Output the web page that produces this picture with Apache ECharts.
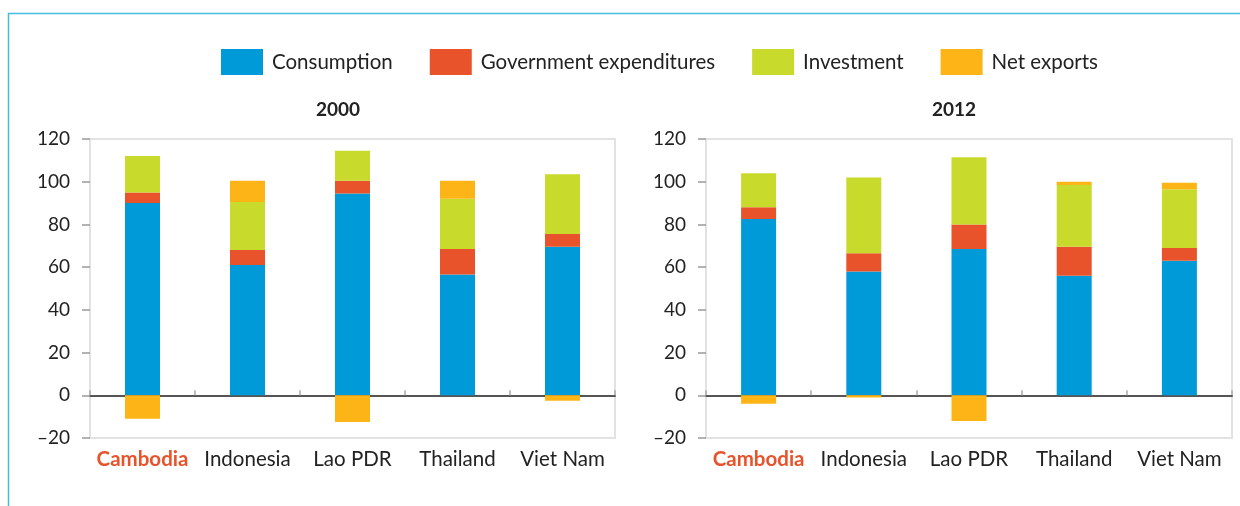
<!DOCTYPE html>
<html>
<head>
<meta charset="utf-8">
<script src="https://cdn.jsdelivr.net/npm/echarts@6/dist/echarts.min.js"></script>
<style>
  html, body { margin: 0; padding: 0; background: #fff; }
  #chart { width: 1240px; height: 506px; }
</style>
</head>
<body>
<div id="chart"></div>
<script>
// categories and values (percent of GDP)
const countries = ['Cambodia', 'Indonesia', 'Lao PDR', 'Thailand', 'Viet Nam']
const seriesNames = ['Consumption', 'Government expenditures', 'Investment', 'Net exports']
const colors = ['#009ad8', '#e9532b', '#c8da2b', '#fdb416']

// 2000
const consumption2000 = [90, 61, 94.5, 56.5, 69.5]
const government2000 = [5, 7, 6, 12, 6]
const investment2000 = [17, 22.5, 14, 23.5, 28]
const netExports2000 = [-11, 10, -12.5, 8.5, -2.5]

// 2012
const consumption2012 = [82.5, 58, 68.5, 56, 63]
const government2012 = [5.5, 8.5, 11.5, 13.5, 6]
const investment2012 = [16, 35.5, 31.5, 29, 27.5]
const netExports2012 = [-4, -1, -12, 1.5, 3]

const yTicks = { min: -20, max: 120, interval: 20 }
const titles = ['2000', '2012']

const chart = echarts.init(document.getElementById('chart'))
const fontFamily = 'Lato, "Open Sans", sans-serif'

const grids = [
  { left: 90, right: 625, top: 139, bottom: 68 },
  { left: 706, right: 8, top: 139, bottom: 68 }
]

// category labels, first one highlighted
const catLabel = {
  color: '#222',
  fontSize: 20.5,
  fontFamily: fontFamily,
  margin: 11,
  interval: 0,
  formatter: (v) => (v === 'Cambodia' ? '{hl|' + v + '}' : v),
  rich: {
    hl: { color: '#e9532b', fontWeight: 'bold', fontSize: 20.5, fontFamily: fontFamily }
  }
}

const xAxes = []
const yAxes = []
grids.forEach((g, i) => {
  // bottom axis: only labels
  xAxes.push({
    type: 'category',
    gridIndex: i,
    data: countries,
    position: 'bottom',
    axisLine: { show: false, onZero: false },
    axisTick: { show: false },
    axisLabel: catLabel
  })
  // zero axis: line + ticks
  xAxes.push({
    type: 'category',
    gridIndex: i,
    data: countries,
    axisLine: { show: true, onZero: true, lineStyle: { color: '#555', width: 2 } },
    axisTick: { show: true, length: 5, lineStyle: { color: '#aaa', width: 1.5 } },
    axisLabel: { show: false }
  })
  yAxes.push({
    type: 'value',
    gridIndex: i,
    min: yTicks.min,
    max: yTicks.max,
    interval: yTicks.interval,
    splitLine: { show: false },
    axisLine: { show: false },
    axisTick: { show: true, length: 8, lineStyle: { color: '#999', width: 1.5 } },
    axisLabel: {
      color: '#222',
      fontSize: 19,
      fontFamily: fontFamily,
      margin: 20,
      formatter: (v) => (v < 0 ? '\u2013' + Math.abs(v) : '' + v)
    }
  })
})

const yearData = [
  [consumption2000, government2000, investment2000, netExports2000],
  [consumption2012, government2012, investment2012, netExports2012]
]

const series = []
yearData.forEach((sets, i) => {
  sets.forEach((vals, k) => {
    series.push({
      name: seriesNames[k],
      type: 'bar',
      stack: 'y' + i,
      xAxisIndex: i * 2,
      yAxisIndex: i,
      barWidth: 35,
      itemStyle: { color: colors[k] },
      data: vals
    })
  })
})

const option = {
  animation: false,
  backgroundColor: '#fff',
  title: [
    { text: titles[0], left: 333, top: 95, textAlign: 'center',
      textStyle: { fontSize: 19, fontWeight: 'bold', color: '#222', fontFamily: fontFamily } },
    { text: titles[1], left: 949, top: 95, textAlign: 'center',
      textStyle: { fontSize: 19, fontWeight: 'bold', color: '#222', fontFamily: fontFamily } }
  ],
  legend: {
    data: seriesNames,
    left: 216,
    top: 44,
    itemWidth: 42,
    itemHeight: 26,
    itemGap: 37,
    icon: 'rect',
    textStyle: { fontSize: 20.5, color: '#222', fontFamily: fontFamily, padding: [0, 0, 0, 4] }
  },
  grid: grids.map((g) => Object.assign({ show: true, borderColor: '#e2e2e2', borderWidth: 2 }, g)),
  xAxis: xAxes,
  yAxis: yAxes,
  series: series,
  graphic: [
    {
      type: 'rect',
      shape: { x: 8.5, y: 13.5, width: 1400, height: 700 },
      style: { fill: 'none', stroke: '#45bde0', lineWidth: 1.5 },
      silent: true
    }
  ]
}

chart.setOption(option)
</script>
</body>
</html>
